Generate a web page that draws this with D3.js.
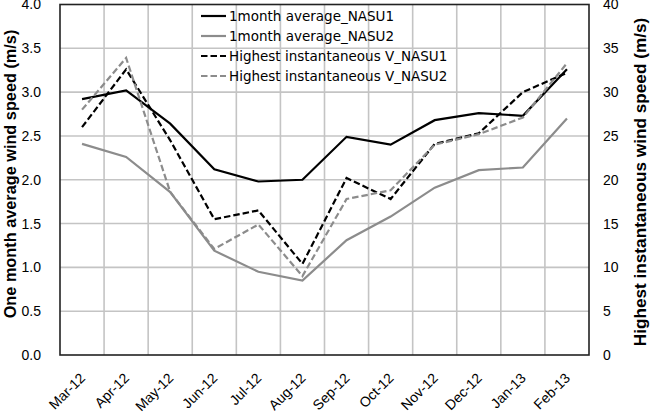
<!DOCTYPE html>
<html>
<head>
<meta charset="utf-8">
<script src="https://cdn.jsdelivr.net/npm/d3@7"></script>
<style>
  body { margin: 0; background: #fff; }
  svg { display: block; font-family: "Liberation Sans", Arial, sans-serif; }
</style>
</head>
<body>
<div id="chart"></div>
<script>
// Monthly wind speed data
const months = ["Mar-12", "Apr-12", "May-12", "Jun-12", "Jul-12", "Aug-12",
                "Sep-12", "Oct-12", "Nov-12", "Dec-12", "Jan-13", "Feb-13"];
const avgNasu1 = [2.92, 3.02, 2.64, 2.12, 1.98, 2.00, 2.49, 2.40, 2.68, 2.76, 2.73, 3.26];
const avgNasu2 = [2.41, 2.26, 1.86, 1.19, 0.95, 0.85, 1.31, 1.58, 1.91, 2.11, 2.14, 2.70];
const maxNasu1 = [26.0, 32.6, 24.5, 15.5, 16.5, 10.4, 20.2, 17.8, 24.1, 25.3, 30.0, 32.2];
const maxNasu2 = [28.0, 33.9, 18.6, 12.1, 14.9, 9.0, 17.8, 18.8, 24.0, 25.2, 27.1, 33.3];
const leftTicks = [0, 0.5, 1.0, 1.5, 2.0, 2.5, 3.0, 3.5, 4.0];
const rightTicks = [0, 5, 10, 15, 20, 25, 30, 35, 40];

const width = 650, height = 415;
const margin = { top: 4.5, right: 61, bottom: 60, left: 60 };
const plotW = width - margin.left - margin.right;
const plotH = height - margin.top - margin.bottom;

const svg = d3.select('#chart').append('svg')
    .attr('width', width)
    .attr('height', height);

const g = svg.append('g')
    .attr('transform', `translate(${margin.left},${margin.top})`);

const x = d3.scaleBand().domain(months).range([0, plotW]).padding(0);
const yL = d3.scaleLinear().domain([0, 4]).range([plotH, 0]);
const yR = d3.scaleLinear().domain([0, 40]).range([plotH, 0]);

// Gridlines
const grid = g.append('g').attr('class', 'grid');
grid.selectAll('line.h')
    .data(leftTicks.slice(1, -1))
    .join('line')
    .attr('x1', 0).attr('x2', plotW)
    .attr('y1', d => yL(d)).attr('y2', d => yL(d))
    .attr('stroke', '#c4c4c4').attr('stroke-width', 1.6);
grid.selectAll('line.v')
    .data(months.slice(1))
    .join('line')
    .attr('x1', d => x(d)).attr('x2', d => x(d))
    .attr('y1', 0).attr('y2', plotH)
    .attr('stroke', '#c4c4c4').attr('stroke-width', 1.6);

// Plot border
g.append('rect')
    .attr('width', plotW).attr('height', plotH)
    .attr('fill', 'none')
    .attr('stroke', '#222').attr('stroke-width', 1.6);

// Left axis
const leftAxis = g.append('g')
    .call(d3.axisLeft(yL).tickValues(leftTicks).tickFormat(d3.format('.1f')).tickSize(0).tickPadding(19));
leftAxis.select('.domain').remove();
leftAxis.selectAll('text').attr('font-size', 14).attr('fill', '#000');

// Right axis
const rightAxis = g.append('g')
    .attr('transform', `translate(${plotW},0)`)
    .call(d3.axisRight(yR).tickValues(rightTicks).tickSize(0).tickPadding(14));
rightAxis.select('.domain').remove();
rightAxis.selectAll('text').attr('font-size', 14).attr('fill', '#000');

// Category labels, rotated
const bottomAxis = g.append('g')
    .attr('transform', `translate(0,${plotH})`)
    .call(d3.axisBottom(x).tickSize(0).tickPadding(0));
bottomAxis.select('.domain').remove();
bottomAxis.selectAll('text')
    .attr('font-size', 14)
    .attr('fill', '#000')
    .attr('text-anchor', 'end')
    .attr('dy', 0)
    .attr('transform', 'translate(4,24) rotate(-45)');

// Axis titles
svg.append('text')
    .attr('transform', `translate(16,174) rotate(-90)`)
    .attr('text-anchor', 'middle')
    .attr('font-size', 16.3)
    .attr('font-weight', 'bold')
    .text('One month average wind speed (m/s)');

svg.append('text')
    .attr('transform', `translate(646,182) rotate(-90)`)
    .attr('text-anchor', 'middle')
    .attr('font-size', 17.2)
    .attr('font-weight', 'bold')
    .text('Highest instantaneous wind speed (m/s)');

// Series
const cx = d => x(d) + x.bandwidth() / 2;
const series = [
    { name: '1month average_NASU1', values: avgNasu1, scale: yL, color: '#000', dash: null },
    { name: '1month average_NASU2', values: avgNasu2, scale: yL, color: '#8c8c8c', dash: null },
    { name: 'Highest instantaneous V_NASU1', values: maxNasu1, scale: yR, color: '#000', dash: '6.5,3' },
    { name: 'Highest instantaneous V_NASU2', values: maxNasu2, scale: yR, color: '#8c8c8c', dash: '6.5,3' }
];

const lines = g.append('g').attr('class', 'lines');
series.forEach(s => {
    const line = d3.line()
        .x((d, i) => cx(months[i]))
        .y(d => s.scale(d));
    lines.append('path')
        .datum(s.values)
        .attr('d', line)
        .attr('fill', 'none')
        .attr('stroke', s.color)
        .attr('stroke-width', 2.2)
        .attr('stroke-dasharray', s.dash);
});

// Legend (no background, grid shows through)
const legend = svg.append('g').attr('transform', 'translate(201,16)');
const item = legend.selectAll('g')
    .data(series)
    .join('g')
    .attr('transform', (d, i) => `translate(0,${i * 20})`);
item.append('line')
    .attr('x1', 0).attr('x2', 25)
    .attr('stroke', d => d.color)
    .attr('stroke-width', 2.2)
    .attr('stroke-dasharray', d => d.dash);
item.append('text')
    .attr('x', 28)
    .attr('dy', '0.36em')
    .attr('font-family', '"DejaVu Sans", sans-serif')
    .attr('font-size', 13.5)
    .attr('fill', '#000')
    .text(d => d.name);
</script>
</body>
</html>
